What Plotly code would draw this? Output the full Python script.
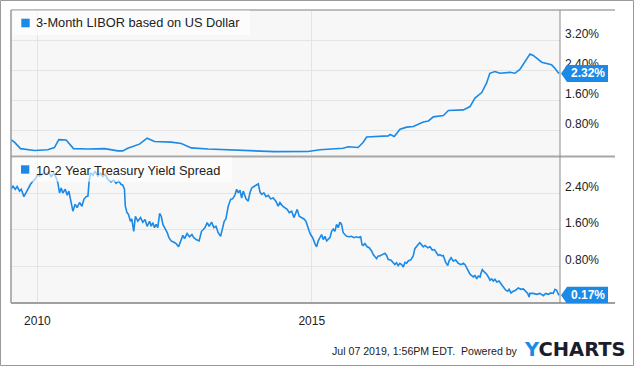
import plotly.graph_objects as go

# ---------------- data ----------------
libor_dates = [
    "2009-07-09", "2009-08-01", "2009-09-10", "2009-12-13", "2010-03-10",
    "2010-04-24", "2010-05-23", "2010-07-11", "2010-08-29", "2010-12-02",
    "2011-03-24", "2011-06-20", "2011-07-23", "2011-08-25", "2011-11-11",
    "2012-01-01", "2012-02-19", "2012-06-09", "2012-08-15", "2012-10-21",
    "2013-02-09", "2013-09-18", "2014-04-28", "2014-12-06", "2015-02-24",
    "2015-07-28", "2015-08-31", "2015-11-05", "2015-12-08", "2016-01-01",
    "2016-03-07", "2016-05-24", "2016-06-05", "2016-07-03", "2016-08-10",
    "2016-09-24", "2016-11-07", "2017-01-12", "2017-02-15", "2017-03-20",
    "2017-05-26", "2017-06-28", "2017-10-06", "2017-11-19", "2017-12-22",
    "2018-02-05", "2018-03-09", "2018-03-31", "2018-05-04", "2018-06-07",
    "2018-08-12", "2018-09-14", "2018-10-17", "2018-12-23", "2019-01-14",
    "2019-03-11", "2019-05-16", "2019-06-07", "2019-06-29", "2019-07-05",
]
libor_vals = [
    0.55, 0.485, 0.31, 0.26, 0.28,
    0.34, 0.55, 0.54, 0.31, 0.30,
    0.31, 0.25, 0.25, 0.32, 0.43,
    0.59, 0.50, 0.485, 0.45, 0.33,
    0.30, 0.26, 0.23, 0.235, 0.28,
    0.32, 0.36, 0.34, 0.475, 0.62,
    0.635, 0.65, 0.69, 0.635, 0.83,
    0.885, 0.90, 1.02, 1.05, 1.16,
    1.195, 1.33, 1.345, 1.435, 1.66,
    1.81, 2.06, 2.325, 2.37, 2.325,
    2.35, 2.325, 2.43, 2.84, 2.80,
    2.62, 2.55, 2.46, 2.34, 2.32,
]

spread_dates = [
    "2009-07-09", "2009-07-22", "2009-08-06", "2009-08-19", "2009-09-04", "2009-09-15", "2009-10-03", "2009-10-18", "2009-11-03", "2009-11-16",
    "2009-12-02", "2009-12-17", "2010-01-01", "2010-01-15", "2010-02-06", "2010-02-28", "2010-03-16", "2010-04-02", "2010-04-20", "2010-05-06",
    "2010-05-17", "2010-05-28", "2010-06-08", "2010-06-19", "2010-07-05", "2010-07-18", "2010-07-29", "2010-08-13", "2010-08-25", "2010-09-09",
    "2010-09-22", "2010-10-08", "2010-10-24", "2010-11-06", "2010-11-21", "2010-12-03", "2010-12-11", "2010-12-21", "2011-01-05", "2011-01-20",
    "2011-02-07", "2011-02-25", "2011-03-12", "2011-03-27", "2011-04-14", "2011-05-06", "2011-05-24", "2011-06-08", "2011-06-26", "2011-07-11",
    "2011-07-23", "2011-08-03", "2011-08-09", "2011-08-20", "2011-08-30", "2011-09-12", "2011-09-21", "2011-10-04", "2011-10-15", "2011-10-31",
    "2011-11-18", "2011-12-03", "2011-12-18", "2012-01-01", "2012-01-17", "2012-01-28", "2012-02-08", "2012-02-19", "2012-03-01", "2012-03-12",
    "2012-03-24", "2012-04-04", "2012-04-15", "2012-04-26", "2012-05-14", "2012-05-25", "2012-06-09", "2012-06-27", "2012-07-12", "2012-07-28",
    "2012-08-11", "2012-08-26", "2012-09-06", "2012-09-23", "2012-10-09", "2012-10-25", "2012-11-07", "2012-11-22", "2012-12-12", "2012-12-28",
    "2013-01-09", "2013-01-20", "2013-02-04", "2013-02-17", "2013-03-05", "2013-03-20", "2013-04-03", "2013-04-18", "2013-05-04", "2013-05-17",
    "2013-05-28", "2013-06-08", "2013-06-24", "2013-07-10", "2013-07-23", "2013-08-07", "2013-08-19", "2013-08-30", "2013-09-10", "2013-09-21",
    "2013-10-02", "2013-10-20", "2013-11-04", "2013-11-15", "2013-11-27", "2013-12-12", "2013-12-30", "2014-01-10", "2014-01-21", "2014-02-01",
    "2014-02-16", "2014-03-02", "2014-03-17", "2014-04-02", "2014-04-19", "2014-05-07", "2014-05-22", "2014-06-03", "2014-06-21", "2014-07-06",
    "2014-07-21", "2014-08-04", "2014-08-20", "2014-09-04", "2014-09-17", "2014-09-26", "2014-10-09", "2014-10-25", "2014-11-10", "2014-11-23",
    "2014-12-02", "2014-12-15", "2014-12-24", "2015-01-07", "2015-01-22", "2015-02-02", "2015-02-13", "2015-02-24", "2015-03-07", "2015-03-18",
    "2015-03-29", "2015-04-10", "2015-04-20", "2015-05-02", "2015-05-13", "2015-05-24", "2015-06-04", "2015-06-15", "2015-06-26", "2015-07-07",
    "2015-07-18", "2015-07-29", "2015-08-09", "2015-08-21", "2015-09-07", "2015-09-23", "2015-10-08", "2015-10-26", "2015-11-12", "2015-11-22",
    "2015-12-01", "2015-12-09", "2015-12-20", "2016-01-05", "2016-01-18", "2016-02-03", "2016-02-14", "2016-02-25", "2016-03-07", "2016-03-18",
    "2016-03-29", "2016-04-14", "2016-05-02", "2016-05-13", "2016-05-24", "2016-06-10", "2016-06-26", "2016-07-07", "2016-07-18", "2016-07-29",
    "2016-08-09", "2016-08-21", "2016-09-01", "2016-09-12", "2016-09-23", "2016-10-04", "2016-10-22", "2016-11-06", "2016-11-17", "2016-11-28",
    "2016-12-09", "2016-12-20", "2017-01-02", "2017-01-12", "2017-01-24", "2017-02-11", "2017-02-26", "2017-03-13", "2017-03-27", "2017-04-12",
    "2017-04-22", "2017-05-03", "2017-05-15", "2017-05-25", "2017-06-10", "2017-06-24", "2017-07-02", "2017-07-16", "2017-07-31", "2017-08-16",
    "2017-09-02", "2017-09-20", "2017-10-06", "2017-10-17", "2017-10-28", "2017-11-08", "2017-11-19", "2017-11-30", "2017-12-11", "2017-12-22",
    "2018-01-03", "2018-01-13", "2018-01-25", "2018-01-31", "2018-02-09", "2018-02-22", "2018-03-10", "2018-03-21", "2018-04-01", "2018-04-12",
    "2018-04-23", "2018-05-04", "2018-05-16", "2018-05-31", "2018-06-13", "2018-06-29", "2018-07-15", "2018-07-28", "2018-08-06", "2018-08-19",
    "2018-09-03", "2018-09-19", "2018-10-06", "2018-10-24", "2018-11-09", "2018-11-25", "2018-12-08", "2018-12-17", "2018-12-23", "2019-01-14",
    "2019-02-06", "2019-02-28", "2019-03-22", "2019-04-07", "2019-04-24", "2019-05-12", "2019-05-27", "2019-06-08", "2019-06-19", "2019-06-26",
    "2019-07-01", "2019-07-05",
]
spread_vals = [
    2.49, 2.56, 2.49, 2.55, 2.45, 2.49, 2.33, 2.43, 2.52, 2.60,
    2.67, 2.71, 2.80, 2.78, 2.84, 2.82, 2.87, 2.77, 2.84, 2.74,
    2.63, 2.41, 2.52, 2.41, 2.49, 2.36, 2.45, 2.20, 2.01, 2.16,
    2.09, 2.20, 2.12, 2.27, 2.33, 2.34, 2.67, 2.85, 2.80, 2.89,
    2.78, 2.84, 2.77, 2.82, 2.71, 2.65, 2.69, 2.62, 2.67, 2.60,
    2.58, 2.49, 2.12, 1.98, 1.94, 1.79, 1.84, 1.57, 1.90, 1.79,
    1.87, 1.77, 1.83, 1.68, 1.79, 1.68, 1.76, 1.65, 1.72, 1.65,
    1.96, 1.90, 1.72, 1.65, 1.54, 1.43, 1.36, 1.33, 1.30, 1.23,
    1.36, 1.48, 1.41, 1.52, 1.45, 1.50, 1.43, 1.39, 1.36, 1.57,
    1.61, 1.65, 1.76, 1.68, 1.77, 1.65, 1.68, 1.54, 1.46, 1.65,
    1.79, 1.84, 2.12, 2.27, 2.28, 2.36, 2.49, 2.41, 2.47, 2.30,
    2.45, 2.28, 2.23, 2.41, 2.52, 2.55, 2.58, 2.61, 2.43, 2.38,
    2.41, 2.33, 2.36, 2.28, 2.30, 2.23, 2.12, 2.20, 2.12, 2.09,
    2.05, 1.98, 2.01, 1.87, 1.98, 2.05, 1.90, 1.87, 1.84, 1.79,
    1.68, 1.57, 1.50, 1.43, 1.30, 1.23, 1.36, 1.43, 1.50, 1.39,
    1.46, 1.36, 1.39, 1.43, 1.57, 1.62, 1.57, 1.72, 1.65, 1.77,
    1.72, 1.54, 1.50, 1.46, 1.45, 1.46, 1.43, 1.45, 1.43, 1.46,
    1.28, 1.26, 1.30, 1.23, 1.21, 1.14, 1.06, 1.01, 0.97, 1.03,
    1.03, 1.06, 1.09, 1.04, 0.95, 0.94, 0.89, 0.84, 0.88, 0.82,
    0.87, 0.84, 0.79, 0.89, 0.87, 0.92, 0.95, 1.03, 1.19, 1.25,
    1.28, 1.32, 1.28, 1.23, 1.26, 1.21, 1.23, 1.16, 1.17, 1.09,
    1.04, 1.06, 1.03, 1.04, 0.89, 0.82, 0.92, 0.99, 0.92, 0.94,
    0.87, 0.84, 0.87, 0.84, 0.77, 0.73, 0.63, 0.60, 0.57, 0.60,
    0.53, 0.59, 0.57, 0.65, 0.73, 0.68, 0.63, 0.57, 0.50, 0.53,
    0.48, 0.52, 0.46, 0.48, 0.43, 0.35, 0.28, 0.26, 0.30, 0.22,
    0.26, 0.28, 0.33, 0.30, 0.31, 0.24, 0.21, 0.13, 0.21, 0.21,
    0.19, 0.21, 0.16, 0.21, 0.19, 0.22, 0.21, 0.30, 0.28, 0.22,
    0.19, 0.17,
]

x_tick_vals = ["2010-01-01", "2015-01-01"]
x_tick_text = ["2010", "2015"]
libor_ticks = [0.8, 1.6, 2.4, 3.2]
spread_ticks = [0.8, 1.6, 2.4]
libor_name = "3-Month LIBOR based on US Dollar"
spread_name = "10-2 Year Treasury Yield Spread"
footer_text = "Jul 07 2019, 1:56PM EDT.&nbsp; Powered by"

# ---------------- styling ----------------
W, H = 635, 366
ML, MR, MT, MB = 11, 75, 10, 63
PW, PH = W - ML - MR, H - MT - MB
BLUE = "#1a8ae6"
GRID = "#e4e4e4"
FONT = "Liberation Sans, Arial, sans-serif"
TXT = "#222222"
X_RANGE = ["2009-07-09", "2019-07-11"]


def px(xp):
    return (xp - ML) / PW


def py(yp):
    return (H - MB - yp) / PH


fig = go.Figure()
fig.add_trace(go.Scatter(x=spread_dates, y=spread_vals, mode="lines",
                         line=dict(color=BLUE, width=1.6), xaxis="x", yaxis="y",
                         hoverinfo="skip", showlegend=False))
fig.add_trace(go.Scatter(x=libor_dates, y=libor_vals, mode="lines",
                         line=dict(color=BLUE, width=1.6), xaxis="x2", yaxis="y2",
                         hoverinfo="skip", showlegend=False))

axis_font = dict(family=FONT, size=12, color=TXT)
fig.update_layout(
    width=W, height=H,
    margin=dict(l=ML, r=MR, t=MT, b=MB, pad=0),
    paper_bgcolor="white", plot_bgcolor="#f7f7f7",
    font=dict(family=FONT, color=TXT),
    xaxis=dict(domain=[0, 1], anchor="y", type="date", range=X_RANGE,
               tickmode="array", tickvals=x_tick_vals, ticktext=x_tick_text,
               showgrid=True, gridcolor=GRID, gridwidth=1, showline=False,
               zeroline=False, ticks="", tickfont=axis_font, ticklabelstandoff=9),
    xaxis2=dict(domain=[0, 1], anchor="y2", type="date", range=X_RANGE, matches="x",
                tickmode="array", tickvals=x_tick_vals, showticklabels=False,
                showgrid=True, gridcolor=GRID, gridwidth=1, showline=False,
                zeroline=False, ticks=""),
    yaxis=dict(domain=[0, 0.5], anchor="x", range=[0, 3.208], side="right",
               tickmode="array", tickvals=spread_ticks,
               ticktext=[f"{v:.2f}%" for v in spread_ticks],
               showgrid=True, gridcolor=GRID, zeroline=False, showline=False,
               ticks="", tickfont=axis_font, ticklabelshift=-7, ticklabelstandoff=4),
    yaxis2=dict(domain=[0.5, 1], anchor="x2", range=[0.1, 4.016], side="right",
                tickmode="array", tickvals=libor_ticks,
                ticktext=[f"{v:.2f}%" for v in libor_ticks],
                showgrid=True, gridcolor=GRID, zeroline=False, showline=False,
                ticks="", tickfont=axis_font, ticklabelshift=-7, ticklabelstandoff=4),
)

shapes = []
# outer border of the image
shapes.append(dict(type="rect", xref="paper", yref="paper",
                   x0=px(0.5), x1=px(W - 1.5), y0=py(H - 0.5), y1=py(0.5),
                   line=dict(color="#9a9a9a", width=1), fillcolor="rgba(0,0,0,0)", layer="above"))
# panel borders
for yline, col in [(MT, "#bdbdbd"), (MT + PH / 2, "#a8a8a8"), (H - MB, "#a0a0a0")]:
    shapes.append(dict(type="line", xref="paper", yref="paper",
                       x0=0, x1=px(615), y0=py(yline), y1=py(yline),
                       line=dict(color=col, width=2), layer="above"))
shapes.append(dict(type="line", xref="paper", yref="paper", x0=0, x1=0, y0=0, y1=1,
                   line=dict(color="#9a9a9a", width=1.5), layer="above"))
shapes.append(dict(type="line", xref="paper", yref="paper", x0=1, x1=1, y0=0, y1=1,
                   line=dict(color="#8a8a8a", width=1), layer="above"))

# legend boxes
legend_boxes = [
    (libor_name, (12.5, 10.5, 250, 35), (21.3, 18.7, 29.7, 27.3), 22.7),
    (spread_name, (12.5, 157.5, 232, 181.7), (21.0, 165.3, 29.3, 173.7), 170),
]
annotations = []
for name, box, sq, ty in legend_boxes:
    shapes.append(dict(type="rect", xref="paper", yref="paper",
                       x0=px(box[0]), x1=px(box[2]), y0=py(box[3]), y1=py(box[1]),
                       fillcolor="rgba(255,255,255,0.6)", line=dict(width=0), layer="above"))
    shapes.append(dict(type="rect", xref="paper", yref="paper",
                       x0=px(sq[0]), x1=px(sq[2]), y0=py(sq[3]), y1=py(sq[1]),
                       fillcolor=BLUE, line=dict(width=0), layer="above"))
    annotations.append(dict(xref="paper", yref="paper", x=px(34.3), y=py(ty),
                            xanchor="left", yanchor="middle", showarrow=False,
                            text=name, font=dict(family=FONT, size=12.8, color=TXT)))

# last-value badges
badge_path = "M1,0 L7,8.5 L48,8.5 L48,-8.5 L7,-8.5 Z"
for yref, val in [("y2", libor_vals[-1]), ("y", spread_vals[-1])]:
    shapes.append(dict(type="path", xref="paper", xanchor=1, xsizemode="pixel",
                       yref=yref, yanchor=val, ysizemode="pixel", path=badge_path,
                       fillcolor=BLUE, line=dict(width=0), layer="above"))
    annotations.append(dict(xref="paper", yref=yref, x=px(588), y=val,
                            xanchor="center", yanchor="middle", showarrow=False,
                            text=f"<b>{val:.2f}%</b>",
                            font=dict(family=FONT, size=12, color="white")))

# footer
annotations.append(dict(xref="paper", yref="paper", x=px(519.5), y=py(351),
                        xanchor="right", yanchor="middle", showarrow=False,
                        text=footer_text, font=dict(family=FONT, size=10.6, color=TXT)))
annotations.append(dict(xref="paper", yref="paper", x=px(521.5), y=py(349.5),
                        xanchor="left", yanchor="middle", showarrow=False,
                        text='<b><span style="color:%s">Y</span>CHARTS</b>' % BLUE,
                        font=dict(family="DejaVu Sans", size=19.5, color="#1b1d2b")))

fig.update_layout(shapes=shapes, annotations=annotations)
fig.write_html("out.html", config={"displayModeBar": False},
               post_script="document.body.style.margin='0';document.body.style.overflow='hidden';")
